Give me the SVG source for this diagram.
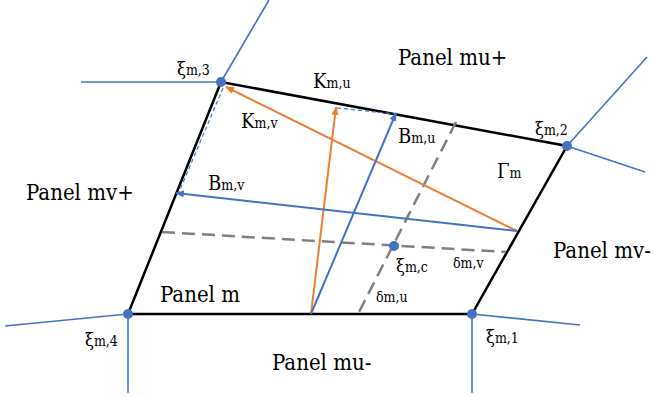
<svg xmlns="http://www.w3.org/2000/svg" width="653" height="396" viewBox="0 0 653 396">
<defs>
<style>
.edge{stroke:#000;stroke-width:2.5;fill:none;stroke-linecap:round}
.grid{stroke:#4472C4;stroke-width:1.6;fill:none}
.vb{stroke:#4472C4;stroke-width:2;fill:none}
.vo{stroke:#ED7D31;stroke-width:2;fill:none}
.dashb{stroke:#4472C4;stroke-width:1.2;stroke-dasharray:4,3;fill:none}
.dashg{stroke:#808080;stroke-width:2.5;stroke-dasharray:13,7;fill:none}
.dot{fill:#4472C4}
text{font-family:"DejaVu Serif Condensed","DejaVu Serif",serif;font-stretch:condensed}
.big{font-size:22px}
.sym{font-size:20px}
.sub{font-size:14px}
.xi{font-size:18px}
</style>
<marker id="ab" viewBox="0 0 10 8" refX="9" refY="4" markerWidth="9" markerHeight="7" markerUnits="userSpaceOnUse" orient="auto"><path d="M0,0 L10,4 L0,8 z" fill="#4472C4"/></marker>
<marker id="ao" viewBox="0 0 10 8" refX="9" refY="4" markerWidth="9" markerHeight="7" markerUnits="userSpaceOnUse" orient="auto"><path d="M0,0 L10,4 L0,8 z" fill="#ED7D31"/></marker>
</defs>
<g id="connectors">
<line class="grid" x1="221" y1="82" x2="81" y2="82"/>
<line class="grid" x1="221" y1="82" x2="269" y2="0"/>
<line class="grid" x1="567" y1="146" x2="647" y2="57"/>
<line class="grid" x1="567" y1="146" x2="645" y2="172"/>
<line class="grid" x1="472" y1="314" x2="580" y2="325"/>
<line class="grid" x1="472" y1="314" x2="472" y2="393"/>
<line class="grid" x1="128" y1="314" x2="5" y2="326"/>
<line class="grid" x1="128" y1="314" x2="128" y2="393"/>
<polygon class="edge" points="221,82 567,146 472,314 128,314"/>
<line class="dashg" x1="162" y1="232" x2="506" y2="252"/>
<line class="dashg" x1="456" y1="122" x2="358" y2="314"/>
<line class="dashb" x1="337" y1="108" x2="396" y2="114"/>
<line class="dashb" x1="223" y1="88" x2="179" y2="192"/>
<line class="vo" x1="311" y1="314" x2="336" y2="107" marker-end="url(#ao)"/>
<line class="vo" x1="517" y1="231" x2="226" y2="87" marker-end="url(#ao)"/>
<line class="vb" x1="311" y1="314" x2="396" y2="113" marker-end="url(#ab)"/>
<line class="vb" x1="517" y1="231" x2="176" y2="193" marker-end="url(#ab)"/>
</g>
<g id="node-xi3"><circle class="dot" cx="221" cy="82" r="5"/><text x="177" y="75"><tspan class="xi">ξ</tspan><tspan class="sub">m,3</tspan></text></g>
<g id="node-xi2"><circle class="dot" cx="567" cy="146" r="5"/><text x="535" y="135"><tspan class="xi">ξ</tspan><tspan class="sub">m,2</tspan></text></g>
<g id="node-xi1"><circle class="dot" cx="472" cy="314" r="5"/><text x="486" y="343"><tspan class="xi">ξ</tspan><tspan class="sub">m,1</tspan></text></g>
<g id="node-xi4"><circle class="dot" cx="128" cy="314" r="5"/><text x="85" y="346"><tspan class="xi">ξ</tspan><tspan class="sub">m,4</tspan></text></g>
<g id="node-xic"><circle class="dot" cx="394" cy="246" r="5"/><text x="396" y="272"><tspan class="xi">ξ</tspan><tspan class="sub">m,c</tspan></text></g>
<g id="labels">
<text class="big" x="398" y="65">Panel mu+</text>
<text class="big" x="26" y="200">Panel mv+</text>
<text class="big" x="160" y="302">Panel m</text>
<text class="big" x="272" y="370">Panel mu-</text>
<text class="big" x="553" y="258">Panel mv-</text>
<text x="313" y="88"><tspan class="sym">K</tspan><tspan class="sub">m,u</tspan></text>
<text x="241" y="128"><tspan class="sym">K</tspan><tspan class="sub">m,v</tspan></text>
<text x="398" y="143"><tspan class="sym">B</tspan><tspan class="sub">m,u</tspan></text>
<text x="208" y="190"><tspan class="sym">B</tspan><tspan class="sub">m,v</tspan></text>
<text x="497" y="178"><tspan class="sym">Γ</tspan><tspan class="sub">m</tspan></text>
<text class="sub" x="453" y="268">δm,v</text>
<text class="sub" x="376" y="302">δm,u</text>
</g>
</svg>
